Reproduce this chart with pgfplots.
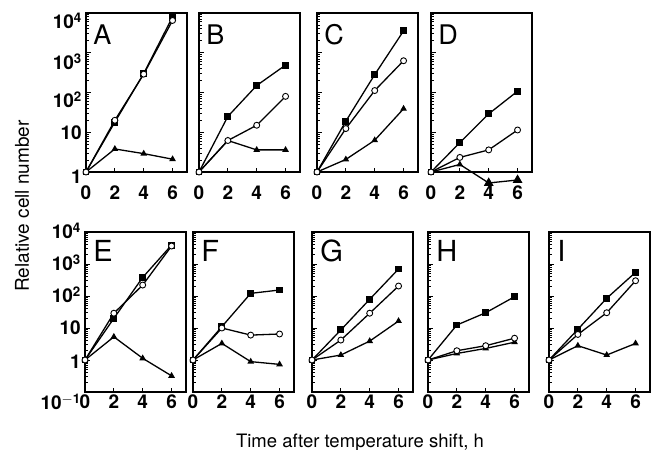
\documentclass[border=0pt]{standalone}
\usepackage{fontspec}
\setmainfont{TeX Gyre Heros}
\usepackage{pgfplots}
\pgfplotsset{compat=1.18}

\newcommand\tickfont{\fontsize{19}{19}\selectfont\bfseries}
\newcommand\panelfont{\fontsize{27}{27}\selectfont}
\newcommand\panelfontb{\fontsize{29}{29}\selectfont}

\pgfplotsset{
  cellpanel/.style={
    scale only axis, width=101pt,
    anchor=north west,
    xmin=0, xmax=7,
    xtick={0,2,4,6},
    tick pos=left,
    major tick length=4.5pt, minor tick length=2.5pt,
    axis line style={line width=1.3pt},
    every tick/.style={black, line width=0.8pt},
    clip=false,
    ticklabel style={font=\tickfont, inner sep=0pt},
    /pgf/number format/assume math mode=true,
    xticklabel style={anchor=north},
    yticklabel style={anchor=base east, xshift=-4pt, yshift=-6.8pt},
    yticklabels={},
  },
  celltop/.style={cellpanel, height=159pt, ymin=1, ymax=1e4,
    ytick={1,10,100,1000,10000},
    minor ytick={2,3,4,5,6,7,8,9,20,30,40,50,60,70,80,90,200,300,400,500,600,700,800,900,2000,3000,4000,5000,6000,7000,8000,9000},
    xticklabel style={yshift=-14pt}},
  cellbot/.style={cellpanel, height=160pt, ymin=0.1, ymax=1e4,
    ytick={0.1,1,10,100,1000,10000},
    minor ytick={0.2,0.3,0.4,0.5,0.6,0.7,0.8,0.9,2,3,4,5,6,7,8,9,20,30,40,50,60,70,80,90,200,300,400,500,600,700,800,900,2000,3000,4000,5000,6000,7000,8000,9000},
    xticklabel style={yshift=-3pt}},
  sqr/.style={black, line width=1.3pt, mark=square*, mark size=2.8pt},
  cir/.style={black, line width=1.3pt, mark=*, mark size=3pt, mark options={fill=white, line width=0.9pt}},
  tri/.style={black, line width=1.3pt, mark=triangle*, mark size=2.6pt},
}

\begin{document}
\begin{tikzpicture}
% top row
\begin{semilogyaxis}[celltop, at={(86pt,-13pt)},
  yticklabels={\raisebox{-5pt}{1},10,\raisebox{-8pt}{10\textsuperscript{2}},\raisebox{-10pt}{10\textsuperscript{3}},\raisebox{-9pt}{10\textsuperscript{4}}}]
\addplot[sqr] coordinates {(0,1) (2,18) (4,300) (6,8000)};
\addplot[tri] coordinates {(0,1) (2,3.8) (4,2.9) (6,2.1)};
\addplot[cir] coordinates {(0,1) (2,20) (4,290) (6,6500)};
\node[font=\panelfont, anchor=north west, inner sep=0pt] at (rel axis cs:0.07,0.93) {A};
\end{semilogyaxis}
\begin{semilogyaxis}[celltop, at={(199pt,-13pt)}]
\addplot[sqr] coordinates {(0,1) (2,25) (4,150) (6,490)};
\addplot[tri] coordinates {(0,1) (2,6.2) (4,3.6) (6,3.6)};
\addplot[cir] coordinates {(0,1) (2,6.2) (4,15) (6,80)};
\node[font=\panelfont, anchor=north west, inner sep=0pt] at (rel axis cs:0.07,0.93) {B};
\end{semilogyaxis}
\begin{semilogyaxis}[celltop, at={(317pt,-13pt)}]
\addplot[sqr] coordinates {(0,1) (2,19) (4,282) (6,3550)};
\addplot[tri] coordinates {(0,1) (2,2.07) (4,6.3) (6,39)};
\addplot[cir] coordinates {(0,1) (2,12.4) (4,112) (6,630)};
\node[font=\panelfont, anchor=north west, inner sep=0pt] at (rel axis cs:0.07,0.93) {C};
\end{semilogyaxis}
\begin{semilogyaxis}[celltop, at={(431pt,-13pt)}]
\addplot[sqr] coordinates {(0,1) (2,5.5) (4,29) (6,108)};
\addplot[tri] coordinates {(0,1) (2,1.55) (4,0.53) (6,0.63)};
\addplot[tri, only marks, mark size=4.3pt] coordinates {(4,0.53) (6,0.63)};
\addplot[cir] coordinates {(0,1) (2,2.33) (4,3.6) (6,11.4)};
\node[font=\panelfont, anchor=north west, inner sep=0pt] at (rel axis cs:0.07,0.93) {D};
\end{semilogyaxis}
% bottom row
\begin{semilogyaxis}[cellbot, at={(85pt,-232pt)},
  yticklabels={\raisebox{-11pt}{10\textsuperscript{$-$1}},\raisebox{-2pt}{1},10,10\textsuperscript{2},10\textsuperscript{3},10\textsuperscript{4}}]
\addplot[sqr] coordinates {(0,1) (2,20) (4,382) (6,3900)};
\addplot[tri] coordinates {(0,1) (2,5.3) (4,1.13) (6,0.32)};
\addplot[cir] coordinates {(0,1) (2,29) (4,220) (6,3650)};
\node[font=\panelfontb, anchor=north west, inner sep=0pt] at (rel axis cs:0.08,0.95) {E};
\end{semilogyaxis}
\begin{semilogyaxis}[cellbot, at={(193pt,-232pt)}]
\addplot[sqr] coordinates {(0,1) (2,11) (4,121) (6,154)};
\addplot[tri] coordinates {(0,1) (2,3.3) (4,0.89) (6,0.73)};
\addplot[cir] coordinates {(0,1) (2,10) (4,6) (6,6.5)};
\node[font=\panelfontb, anchor=north west, inner sep=0pt] at (rel axis cs:0.08,0.95) {F};
\end{semilogyaxis}
\begin{semilogyaxis}[cellbot, at={(312pt,-232pt)}]
\addplot[sqr] coordinates {(0,1) (2,8.7) (4,79) (6,700)};
\addplot[tri] coordinates {(0,1) (2,1.43) (4,3.9) (6,16.5)};
\addplot[cir] coordinates {(0,1) (2,4.2) (4,29) (6,205)};
\node[font=\panelfontb, anchor=north west, inner sep=0pt] at (rel axis cs:0.08,0.95) {G};
\end{semilogyaxis}
\begin{semilogyaxis}[cellbot, at={(428pt,-232pt)}]
\addplot[sqr] coordinates {(0,1) (2,12.4) (4,30) (6,95)};
\addplot[tri] coordinates {(0,1) (2,1.6) (4,2.3) (6,3.6)};
\addplot[cir] coordinates {(0,1) (2,1.95) (4,2.8) (6,4.8)};
\node[font=\panelfontb, anchor=north west, inner sep=0pt] at (rel axis cs:0.08,0.95) {H};
\end{semilogyaxis}
\begin{semilogyaxis}[cellbot, at={(549pt,-232pt)}]
\addplot[sqr] coordinates {(0,1) (2,9.1) (4,85) (6,550)};
\addplot[tri] coordinates {(0,1) (2,2.8) (4,1.43) (6,3.3)};
\addplot[cir] coordinates {(0,1) (2,6.3) (4,30) (6,300)};
\node[font=\panelfontb, anchor=north west, inner sep=0pt] at (rel axis cs:0.08,0.95) {I};
\end{semilogyaxis}
\node[rotate=90, font=\fontsize{19}{19}\selectfont] at (22pt,-206pt) {Relative cell number};
\node[anchor=base, font=\fontsize{18.5}{18.5}\selectfont] at (360pt,-447pt) {Time after temperature shift, h};
\pgfresetboundingbox
\path (0,0) rectangle (659pt,-450pt);
\end{tikzpicture}
\end{document}
